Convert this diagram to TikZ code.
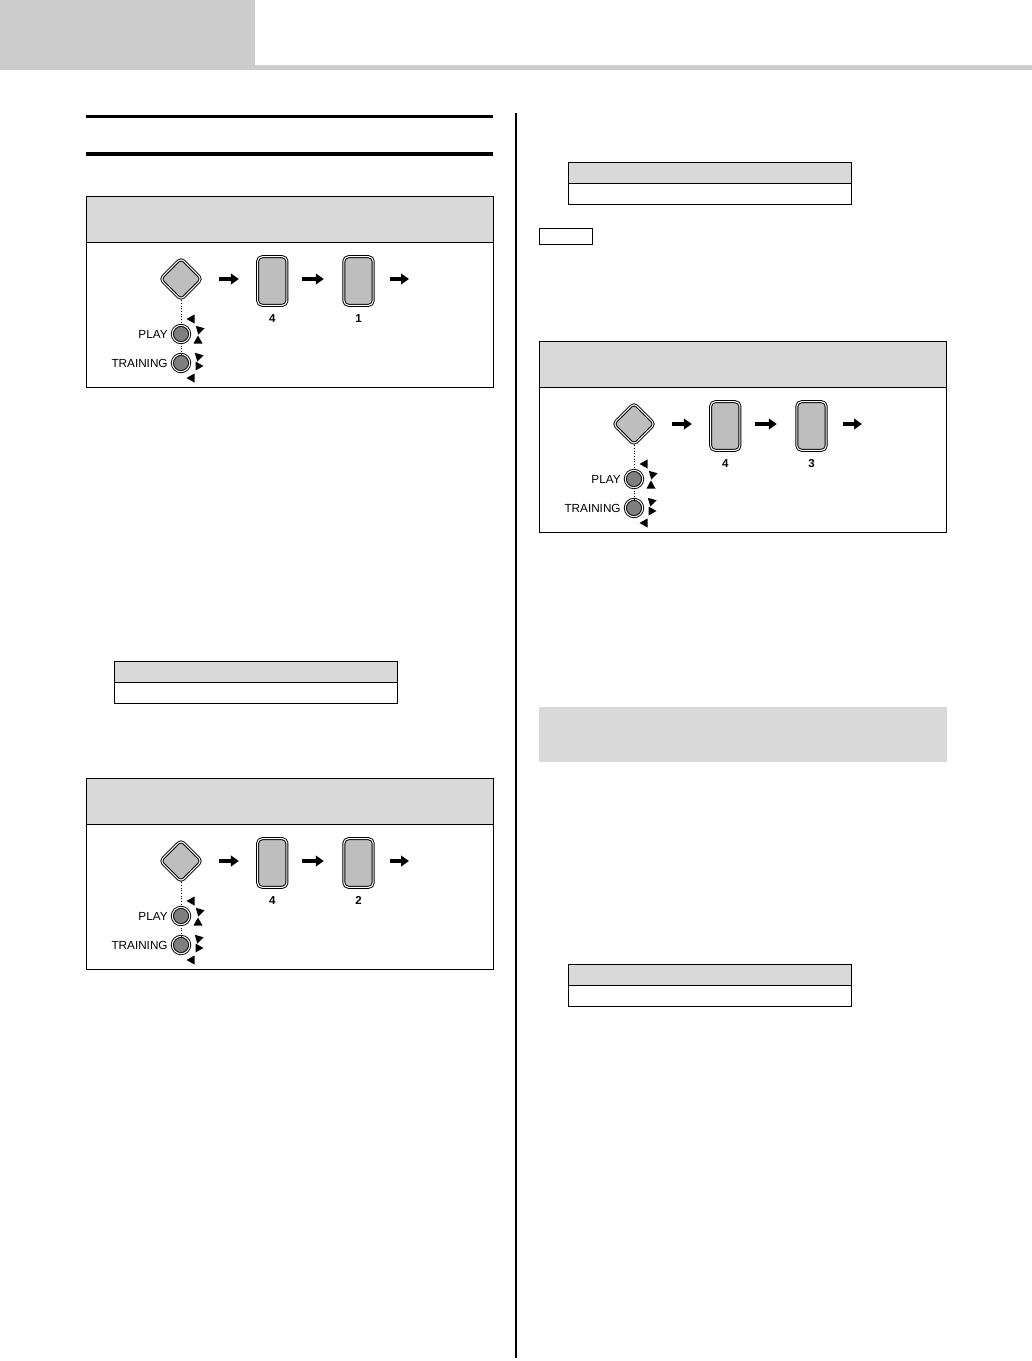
\documentclass[tikz,border=0pt]{standalone}
\usepackage{fontspec}
\setmainfont{Liberation Sans}
\usepackage{xcolor}
\usepackage{tikz}
\usetikzlibrary{shapes.geometric, arrows.meta, positioning, calc}

\definecolor{headgray}{HTML}{D9D9D9}
\definecolor{bargray}{HTML}{CCCCCC}
\definecolor{keygray}{HTML}{BEBEBE}
\definecolor{lampgray}{HTML}{7F7F7F}

% little flash marks round a lamp
\newcommand{\blinkray}[3]{\fill[shift={($(#1)+(#2)$)}, rotate=#3] (4.5,0) -- (-3.5,4.5) -- (-3.5,-4.5) -- cycle;}

% one panel: key, two steps, arrows and the two lamps
\newcommand{\flowpanel}[3]{%
  \node[panel] (#1) at (#2) {};
  \node[panelhead] (#1head) at (#2) {};
  \node[keyshape] (#1key) at ($(#1.north west)+(95,83)$) {};
  \node[btnbox, right=41pt of #1key, yshift=-1.5pt] (#1stepa) {};
  \node[btnbox, right=42pt of #1stepa] (#1stepb) {};
  \node[steplabel, below=6.5pt of #1stepa] (#1numa) {4};
  \node[steplabel, below=6.5pt of #1stepb] (#1numb) {#3};
  \coordinate (#1end) at ($(#1.north west)+(323,83)$);
  \node[lamp] (#1play) at ($(#1.north west)+(95,138)$) {};
  \node[lamp] (#1train) at ($(#1.north west)+(95,167)$) {};
  \node[lamplabel, left=3pt of #1play] (#1playtext) {PLAY};
  \node[lamplabel, left=3pt of #1train] (#1traintext) {TRAINING};
  \draw[flowarrow, shorten <=12.3pt, shorten >=13.7pt] (#1key) -- (#1key -| #1stepa.west);
  \draw[flowarrow, shorten <=10.8pt, shorten >=14.7pt] (#1key -| #1stepa.east) -- (#1key -| #1stepb.west);
  \draw[flowarrow, shorten <=12pt] (#1key -| #1stepb.east) -- (#1end);
  \draw[lampwire] (#1key.south) -- (#1play.north);
  \draw[lampwire] (#1play.south) -- (#1train.north);
  \blinkray{#1play}{10,-15}{180}
  \blinkray{#1play}{18,-5}{135}
  \blinkray{#1play}{17,6}{90}
  \blinkray{#1train}{17,-7}{135}
  \blinkray{#1train}{18,3}{0}
  \blinkray{#1train}{10,15}{180}
}

\begin{document}
\begin{tikzpicture}[x=0.75pt, y=-0.75pt,
    panel/.style={rectangle, draw=black, line width=0.75pt, minimum width=305.25pt, minimum height=143.25pt, inner sep=0pt, anchor=north west},
    panelhead/.style={rectangle, draw=black, line width=0.75pt, fill=headgray, minimum width=305.25pt, minimum height=34.5pt, inner sep=0pt, anchor=north west},
    keyshape/.style={diamond, aspect=1, draw=black, double=white, double distance=0.8pt, line width=0.7pt, fill=keygray, minimum size=31.5pt, rounded corners=3pt, inner sep=0pt},
    btnbox/.style={rectangle, draw=black, double=white, double distance=0.8pt, line width=0.7pt, fill=keygray, minimum width=22pt, minimum height=36.5pt, rounded corners=3.5pt, inner sep=0pt},
    lamp/.style={circle, draw=black, double=white, double distance=0.8pt, line width=0.7pt, fill=lampgray, minimum size=13pt, inner sep=0pt},
    steplabel/.style={inner sep=0pt, font=\fontsize{8.6}{10}\selectfont\bfseries},
    lamplabel/.style={inner sep=0pt, font=\fontsize{8.8}{10}\selectfont},
    flowarrow/.style={-{Triangle[length=6pt, width=8pt]}, line width=3pt},
    lampwire/.style={line width=0.75pt, dash pattern=on 0.75pt off 1.25pt},
    infotable/.style={rectangle, draw=black, line width=0.75pt, minimum width=212pt, minimum height=31.5pt, inner sep=0pt, anchor=north west},
    infohead/.style={rectangle, draw=black, line width=0.75pt, fill=headgray, minimum width=212pt, minimum height=15.75pt, inner sep=0pt, anchor=north west},
    notetag/.style={rectangle, draw=black, line width=0.75pt, minimum width=39.75pt, minimum height=12pt, inner sep=0pt, anchor=north west},
    graybox/.style={rectangle, fill=headgray, minimum width=306pt, minimum height=41.25pt, inner sep=0pt, anchor=north west}
  ]
  \useasboundingbox (0,0) rectangle (1032,1361);

  % page head
  \fill[bargray] (0,0) rectangle (255,70);
  \fill[bargray] (255,65) rectangle (1032,70);
  \draw[line width=2.6pt] (86,116.5) -- (493,116.5);
  \draw[line width=2.6pt] (86,154) -- (493,154);
  \draw[line width=0.8pt] (516,113) -- (516,1358);

  % left column
  \flowpanel{pa}{86,196}{1}
  \node[infotable] (tablea) at (114,661) {};
  \node[infohead] (tableahead) at (114,661) {};
  \flowpanel{pb}{86,778}{2}

  % right column
  \node[infotable] (tableb) at (568,162) {};
  \node[infohead] (tablebhead) at (568,162) {};
  \node[notetag] (note) at (539,228) {};
  \flowpanel{pc}{539,341}{3}
  \node[graybox] (shade) at (539,707) {};
  \node[infotable] (tablec) at (568,964) {};
  \node[infohead] (tablechead) at (568,964) {};

\end{tikzpicture}
\end{document}
